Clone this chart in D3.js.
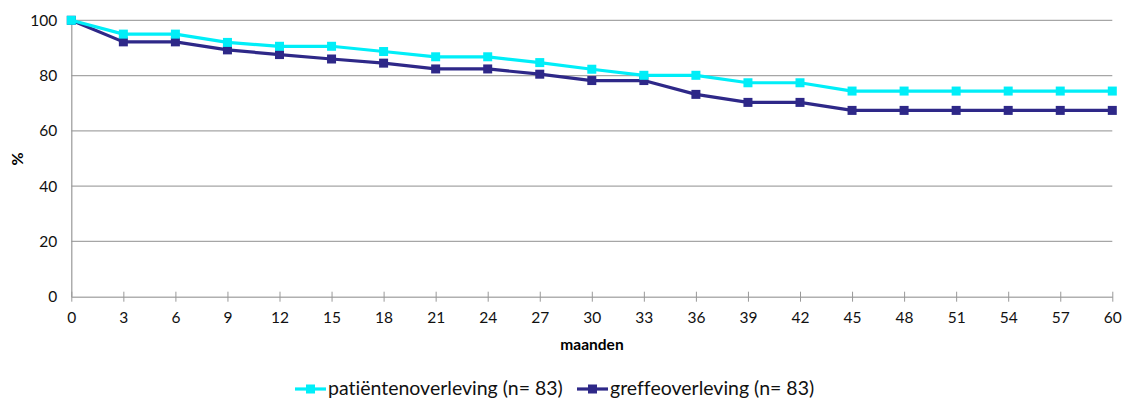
<!DOCTYPE html>
<html><head><meta charset="utf-8">
<script src="https://cdn.jsdelivr.net/npm/d3@7"></script>
<style>body{margin:0;background:#fff}svg text{font-family:Lato,"Open Sans",sans-serif;font-variant-ligatures:none;font-feature-settings:"liga" 0}</style>
</head><body>
<svg id="c" width="1127" height="401"></svg>
<script>
const months = [0,3,6,9,12,15,18,21,24,27,30,33,36,39,42,45,48,51,54,57,60];
const patient = [100,95,95,92,90.6,90.6,88.7,86.8,86.8,84.7,82.3,80.1,80.1,77.4,77.4,74.4,74.4,74.4,74.4,74.4,74.4];
const graft = [100,92.2,92.2,89.3,87.6,86,84.5,82.4,82.4,80.5,78.2,78.2,73.2,70.3,70.3,67.4,67.4,67.4,67.4,67.4,67.4];
const yTicks = [0,20,40,60,80,100];
const seriesNames = ["patiëntenoverleving (n= 83)","greffeoverleving (n= 83)"];
const colors = ["#00eef8","#2e2888"];

const svg = d3.select("#c");
const x = d3.scaleLinear().domain([0,60]).range([71.3,1112.3]);
const y = d3.scaleLinear().domain([0,100]).range([296.7,20.3]);

svg.append("g").selectAll("line").data(yTicks.filter(d=>d>0)).join("line")
  .attr("x1",x(0)).attr("x2",x(60)).attr("y1",d=>y(d)).attr("y2",d=>y(d))
  .attr("stroke","#a6a6a6").attr("stroke-width",1.2);

const ya = svg.append("g").attr("transform",`translate(${x(0)},0)`)
  .call(d3.axisLeft(y).tickValues(yTicks).tickSize(0).tickPadding(14));
ya.select(".domain").attr("stroke","#999").attr("stroke-width",1.2);
ya.selectAll("text").attr("font-size",15.5).attr("fill","#111");

const xa = svg.append("g").attr("transform",`translate(0,${y(0)})`)
  .call(d3.axisBottom(x).tickValues(months).tickSize(5).tickSizeOuter(0).tickPadding(10));
xa.select(".domain").attr("stroke","#b0b0b0").attr("stroke-width",1.5);
xa.selectAll(".tick line").attr("stroke","#999").attr("y1",-5).attr("y2",5);
xa.selectAll("text").attr("font-size",15.5).attr("fill","#111");

svg.append("text").attr("x",592).attr("y",350).attr("text-anchor","middle")
  .attr("font-size",15.5).attr("font-weight","bold").text("maanden");
svg.append("text").attr("transform","translate(23,159) rotate(-90)").attr("text-anchor","middle")
  .attr("font-size",16).attr("font-weight","bold").text("%");

const line = d3.line().x((d,i)=>x(months[i])).y(d=>y(d));
[graft, patient].forEach((s,k)=>{
  const c = k===0?colors[1]:colors[0];
  svg.append("path").datum(s).attr("d",line).attr("fill","none")
    .attr("stroke",c).attr("stroke-width",3.2).attr("stroke-linejoin","round");
  svg.append("g").selectAll("rect").data(s).join("rect")
    .attr("x",(d,i)=>x(months[i])-4.5).attr("y",d=>y(d)-4.5)
    .attr("width",9).attr("height",9).attr("fill",c);
});
const leg = [{x:295,t:seriesNames[0],c:colors[0]},{x:577,t:seriesNames[1],c:colors[1]}];
leg.forEach(l=>{
  const g = svg.append("g");
  g.append("line").attr("x1",l.x).attr("x2",l.x+31).attr("y1",389).attr("y2",389)
    .attr("stroke",l.c).attr("stroke-width",3.2);
  g.append("rect").attr("x",l.x+11).attr("y",384.5).attr("width",9).attr("height",9).attr("fill",l.c);
  g.append("text").attr("x",l.x+33).attr("y",395).attr("font-size",19.5).attr("fill","#111").text(l.t);
});
</script>
</body></html>
